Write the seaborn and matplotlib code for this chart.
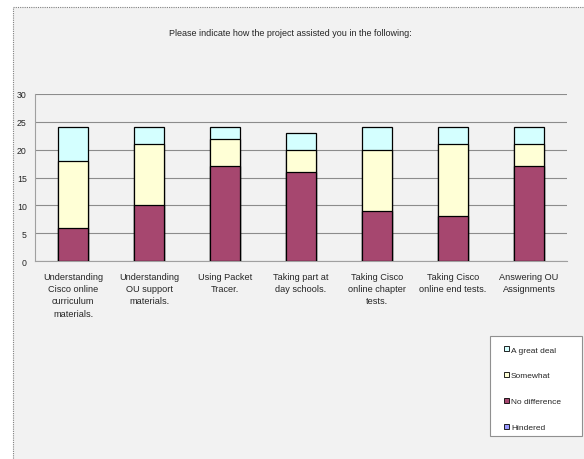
import matplotlib
matplotlib.use("Agg")
import matplotlib.pyplot as plt
import matplotlib.patches as mpatches
import seaborn as sns
import pandas as pd
import numpy as np

categories = [
    "Understanding\nCisco online\ncurriculum\nmaterials.",
    "Understanding\nOU support\nmaterials.",
    "Using Packet\nTracer.",
    "Taking part at\nday schools.",
    "Taking Cisco\nonline chapter\ntests.",
    "Taking Cisco\nonline end tests.",
    "Answering OU\nAssignments",
]
hindered = [0, 0, 0, 0, 0, 0, 0]
no_difference = [6, 10, 17, 16, 9, 8, 17]
somewhat = [12, 11, 5, 4, 11, 13, 4]
great_deal = [6, 3, 2, 3, 4, 3, 3]
series_names = ["Hindered", "No difference", "Somewhat", "A great deal"]
colors = {"Hindered": "#9999ff", "No difference": "#a6476f",
          "Somewhat": "#ffffd6", "A great deal": "#d4ffff"}
title = "Please indicate how the project assisted you in the following:"
yticks = [0, 5, 10, 15, 20, 25, 30]

sns.set_style("white")
plt.rcParams['font.family'] = ['Liberation Sans', 'DejaVu Sans']

fig = plt.figure(figsize=(5.84, 4.6), dpi=100)
fig.patch.set_facecolor("white")

# chart area background (behind everything)
bgax = fig.add_axes([0, 0, 1, 1], zorder=-10)
bgax.set_xlim(0, 584)
bgax.set_ylim(460, 0)
bgax.axis("off")
bgax.add_patch(mpatches.Rectangle((13, 8), 600, 500, facecolor="#f2f2f2",
                                  edgecolor="#808080", linewidth=0.8,
                                  linestyle=(0, (1, 1))))
# legend box
bgax.add_patch(mpatches.Rectangle((490, 337), 92, 100, facecolor="white",
                                  edgecolor="#909090", linewidth=0.8))

ax = fig.add_axes([35/584, 1 - 262/460, (567 - 35)/584, (262 - 95)/460], zorder=1)
ax.set_facecolor("#f2f2f2")

df = pd.DataFrame({"cat": categories, "Hindered": hindered,
                   "No difference": no_difference, "Somewhat": somewhat,
                   "A great deal": great_deal})
cum = df[series_names].cumsum(axis=1)
# draw from top layer downwards so each layer overlaps the one above
for name in reversed(series_names[1:]):
    d = pd.DataFrame({"cat": categories, "val": cum[name]})
    sns.barplot(data=d, x="cat", y="val", color=colors[name], saturation=1,
                width=0.4, edgecolor="black", linewidth=0.9, ax=ax, zorder=3)

ax.set_ylim(0, 30)
ax.set_xlim(-0.5, len(categories) - 0.5)
ax.set_yticks(yticks)
ax.set_yticklabels([str(v) for v in yticks], fontsize=6.3)
ax.yaxis.grid(True, color="#8c8c8c", linewidth=0.8, zorder=0)
ax.set_axisbelow(True)
ax.set_xlabel("")
ax.set_ylabel("")
ax.set_xticks(range(len(categories)))
ax.set_xticklabels(categories, fontsize=6.6, linespacing=1.45)
ax.tick_params(axis="x", length=0, pad=8)
ax.set_xticks(np.arange(-0.5, len(categories), 1), minor=True)
ax.tick_params(axis="x", which="minor", length=3, color="#808080", width=0.8)
ax.tick_params(axis="y", length=3, color="#808080", width=0.8, pad=3)
for s in ["top", "right"]:
    ax.spines[s].set_visible(False)
ax.spines["left"].set_color("#a0a0a0")
ax.spines["bottom"].set_color("#a0a0a0")
ax.spines["left"].set_linewidth(0.8)
ax.spines["bottom"].set_linewidth(0.8)

fig.text(290/584, 1 - 34/460, title, ha="center", va="center", fontsize=6.5)

handles = [mpatches.Patch(facecolor=colors[n], edgecolor="black", linewidth=0.6, label=n)
           for n in reversed(series_names)]
leg = fig.legend(handles=handles, loc="upper left",
                 bbox_to_anchor=(490/584, 1 - 337/460), fontsize=6,
                 frameon=False, labelspacing=2.2,
                 handlelength=0.6, handleheight=0.6, handletextpad=0.25,
                 borderpad=1.2, borderaxespad=0)
leg.set_bbox_to_anchor((494/584, 1 - 337/460), transform=fig.transFigure)

fig.savefig("out.png", dpi=100, facecolor="white")
